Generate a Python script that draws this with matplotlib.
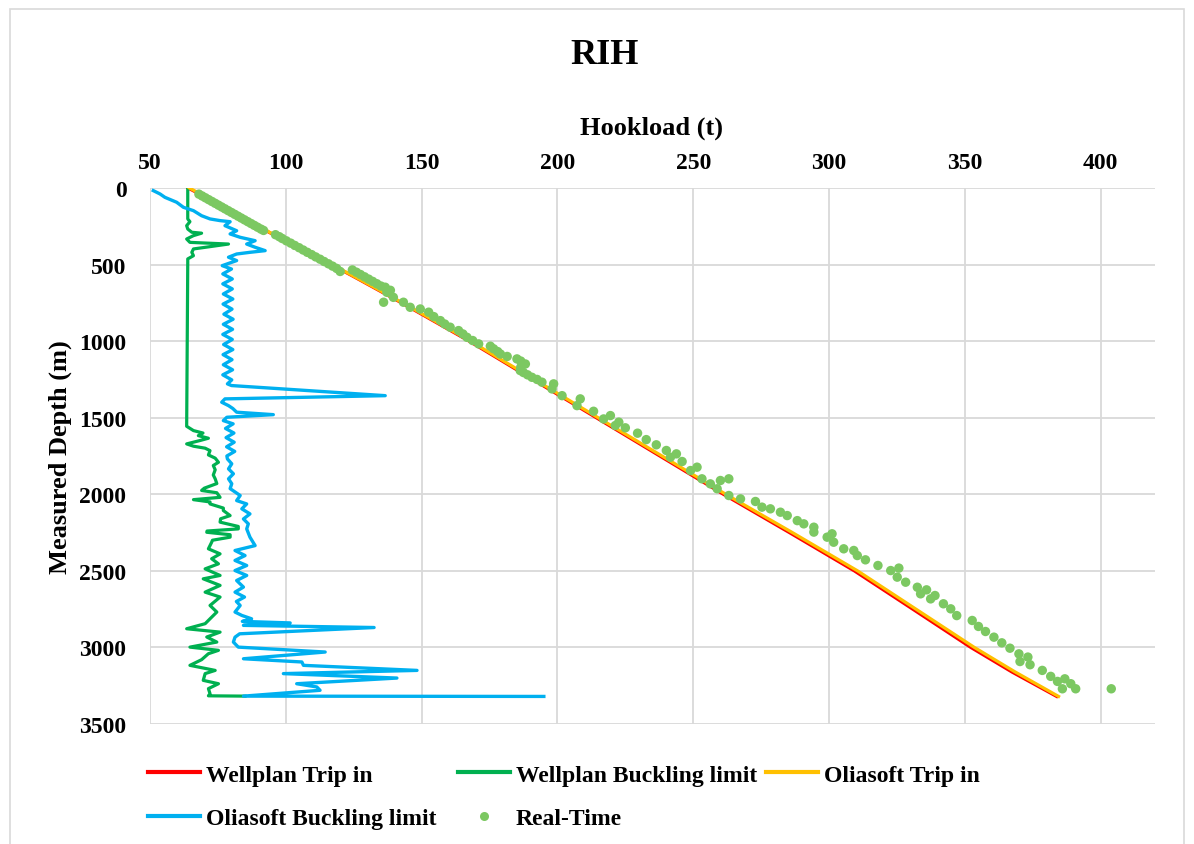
import matplotlib
matplotlib.use('Agg')
import matplotlib.pyplot as plt
from matplotlib.lines import Line2D
from matplotlib.patches import Rectangle

plt.rcParams['font.family'] = ['Liberation Serif', 'DejaVu Serif']
plt.rcParams['font.weight'] = 'bold'

# Trip in (hookload vs measured depth)
trip_depth = [0, 100, 200, 289, 400, 500, 600, 750, 1000, 1250, 1500, 1750,
              2000, 2250, 2500, 2750, 3000, 3160, 3320]
oliasoft_trip = [64.5, 75.0, 85.5, 94.0, 106.0, 117.0, 127.5, 143.0, 168.0, 191.5, 215.0, 238.5,
                 262.0, 286.5, 310.5, 332.0, 353.5, 368.5, 384.5]
wellplan_trip = [64.0, 74.8, 85.3, 93.8, 105.8, 116.8, 127.2, 142.6, 167.5, 190.9, 214.3, 237.7,
                 261.1, 285.4, 309.3, 330.8, 352.2, 367.3, 383.8]

# Wellplan buckling limit
wp_buck_depth = [5, 202, 220, 246, 268, 289, 295, 311, 333, 355, 366, 398, 420, 442, 463, 485,
                 1556, 1584, 1600, 1617, 1634, 1649, 1671, 1686, 1699, 1715, 1743, 1764, 1791,
                 1812, 1840, 1874, 1899, 1930, 1960, 1975, 1990, 2020, 2035, 2050, 2063, 2090,
                 2106, 2139, 2160, 2182, 2210, 2226, 2240, 2248, 2264, 2280, 2300, 2313, 2356,
                 2389, 2421, 2454, 2487, 2530, 2552, 2595, 2639, 2671, 2726, 2769, 2813, 2845,
                 2878, 2900, 2932, 2965, 2998, 3019, 3041, 3080, 3117, 3150, 3171, 3215, 3237,
                 3269, 3302, 3316, 3318]
wp_buck_load = [63.9, 63.9, 64.7, 63.5, 63.9, 65.4, 69.0, 66.0, 63.5, 64.7, 78.9, 66.0, 65.4,
                66.0, 63.9, 63.9,
                63.5, 66.0, 69.5, 67.8, 71.5, 68.4, 63.5, 66.0, 70.3, 72.1, 71.5, 74.0, 75.2,
                73.3, 74.0, 73.3, 74.0, 74.6, 70.0, 69.0, 74.6, 75.8, 66.0, 72.1, 72.1, 77.0,
                77.0, 79.5, 76.0, 75.8, 82.5, 82.5, 71.0, 70.9, 79.5, 79.5, 73.0, 72.7, 71.5,
                75.8, 72.7, 75.2, 70.3, 75.8, 69.6, 75.8, 70.3, 75.8, 72.1, 74.6, 72.1, 70.3,
                63.5, 75.8, 70.9, 74.6, 64.7, 75.2, 71.5, 69.0, 64.7, 74.0, 70.3, 69.6, 75.2,
                71.5, 72.1, 71.5, 85.0]

# Oliasoft buckling limit
ol_buck_depth = [17, 39, 61, 93, 126, 148, 181, 202, 213, 220, 246, 279, 300, 322, 344, 366,
                 387, 409, 420, 431, 452, 474,
                 507, 529, 561, 594, 626, 659, 692, 725, 758, 791, 824, 857, 890, 923, 956,
                 989, 1022, 1055, 1088, 1121, 1154, 1187, 1220, 1253, 1279, 1290,
                 1356, 1377, 1399, 1421, 1440, 1464, 1480, 1497, 1519,
                 1540, 1570, 1600, 1630, 1660, 1690, 1720, 1750, 1769, 1801, 1834, 1866, 1899,
                 1931, 1963, 2008, 2041, 2063, 2095, 2128, 2161, 2193, 2226, 2280, 2335, 2367,
                 2400, 2432, 2465, 2498, 2530, 2563, 2606, 2639, 2671, 2700, 2726, 2769, 2791,
                 2813, 2830, 2840, 2856, 2870, 2911, 2933, 2965, 2998, 3030, 3074, 3095, 3117,
                 3150, 3171, 3200, 3237, 3258, 3280, 3318, 3320]
ol_buck_load = [51.2, 53.7, 55.5, 59.8, 62.3, 66.0, 69.0, 72.1, 75.8, 79.5, 77.6, 81.9, 79.5,
                83.2, 88.7, 85.6, 88.7, 92.4, 86.8, 81.9, 78.9, 81.9,
                76.6, 80.0, 76.8, 80.3, 76.8, 80.3, 77.0, 80.5, 76.9, 80.2, 77.2, 80.6, 77.0,
                80.4, 76.8, 80.3, 77.1, 80.5, 76.9, 80.2, 77.0, 80.4, 76.8, 80.1, 78.5, 80.0,
                136.6, 77.6, 76.4, 78.9, 80.5, 81.9, 95.4, 78.3, 77.0,
                80.6, 77.8, 80.9, 78.0, 81.0, 78.2, 81.2, 78.3, 78.5, 80.1, 78.9, 80.7, 78.9,
                80.1, 79.5, 83.2, 81.9, 85.6, 83.8, 86.8, 84.4, 86.2, 85.6, 86.8, 88.7, 81.3,
                85.0, 81.3, 85.6, 81.3, 85.6, 81.9, 84.4, 81.3, 84.8, 81.8, 83.2, 81.3, 83.8,
                87.4, 84.0, 101.6, 84.4, 132.5, 83.0, 81.3, 80.7, 82.5, 114.5, 84.4, 105.9, 106.5,
                148.3, 99.1, 140.9, 104.0, 111.4, 112.6, 84.4, 195.0]

# Real-time measurements
rt_depth = [40, 52, 64, 76, 88, 100, 112, 124, 136, 148, 160, 172, 184, 196, 208, 220, 232,
            244, 256, 268, 277,
            305, 318, 330, 345, 360, 375, 390, 405, 420, 435, 450, 465, 480, 495, 510, 525, 545,
            535, 550, 565, 580, 595, 610, 625, 640, 648, 668, 681, 714, 746, 746, 779, 790,
            811, 840, 866, 888, 909, 931, 953, 975, 996, 1018, 1033, 1050, 1068, 1084, 1100,
            1116, 1130, 1149, 1170, 1192, 1205, 1220, 1236, 1250, 1268, 1279, 1312, 1356, 1377,
            1421, 1458, 1486, 1508, 1529, 1551, 1566, 1601, 1643, 1677, 1714, 1736, 1758, 1786,
            1823, 1845, 1899, 1910, 1899, 1932, 1964, 2008, 2030, 2047, 2084, 2095, 2117, 2139,
            2172, 2193, 2215, 2247, 2258, 2280, 2313, 2356, 2367, 2400, 2428, 2465, 2482, 2498,
            2541, 2574, 2607, 2624, 2650, 2661, 2683, 2715, 2748, 2792, 2824, 2863, 2896, 2933,
            2970, 3005, 3042, 3063, 3092, 3113, 3150, 3189, 3205, 3222, 3237, 3270, 3270, 3270]
rt_load = [68.0, 69.2, 70.4, 71.6, 72.8, 74.0, 75.2, 76.4, 77.6, 78.8, 80.0, 81.2, 82.4, 83.6,
           84.8, 86.0, 87.2, 88.4, 89.6, 90.8, 91.8,
           96.2, 97.6, 98.7, 100.2, 101.8, 103.3, 104.9, 106.4, 107.9, 109.5, 111.0, 112.6,
           114.1, 115.7, 117.2, 118.7, 120.0,
           124.5, 126.0, 127.5, 129.0, 130.5, 132.0, 133.5, 135.0, 136.6, 138.5, 137.2, 139.6,
           136.0, 143.3, 145.8, 149.5,
           152.6, 154.5, 156.9, 158.5, 160.5, 163.6, 165.2, 166.7, 168.8, 171.0, 175.3, 176.5,
           178.0, 179.0, 181.5, 185.1, 186.5, 188.2, 186.5, 186.3, 187.5, 189.0, 190.6, 192.5,
           194.3, 198.6, 198.0, 201.7, 208.4, 207.2, 213.3, 219.5, 217.0, 222.6, 221.3, 225.0,
           229.5, 232.7, 236.4, 240.1, 243.8, 241.6, 245.9, 251.4, 249.0, 253.2, 260.0, 263.1,
           256.3, 258.8, 263.1, 267.4, 272.9, 275.3, 278.4, 282.1, 284.6, 288.3, 290.7, 294.4,
           294.4, 301.1, 299.3, 301.7, 305.4, 309.1, 310.4, 313.4, 318.0, 325.7, 322.7, 325.1,
           328.2, 332.5, 335.9, 333.7, 339.0, 337.4, 342.1, 344.8, 347.0, 352.7, 355.0, 357.6,
           360.7, 363.6, 366.6, 369.9, 373.2, 370.3, 374.0, 378.5, 381.6, 386.8, 384.1, 389.0,
           385.9, 390.8, 403.9]

x_ticks = [50, 100, 150, 200, 250, 300, 350, 400]
y_ticks = [0, 500, 1000, 1500, 2000, 2500, 3000, 3500]

RED = '#FF0000'
GREEN = '#00B050'
ORANGE = '#FFC000'
BLUE = '#00B0F0'
DOT = '#7CC862'
GRID = '#D9D9D9'

fig = plt.figure(figsize=(11.94, 8.45), dpi=100)
ax = fig.add_axes([150 / 1194, 1 - 725 / 845, (1155 - 150) / 1194, (725 - 189) / 845])

ax.plot(wellplan_trip, trip_depth, color=RED, lw=2.3, solid_joinstyle='round', zorder=3)
ax.plot(wp_buck_load, wp_buck_depth, color=GREEN, lw=2.3, solid_joinstyle='round', zorder=3)
ax.plot(oliasoft_trip, trip_depth, color=ORANGE, lw=2.3, solid_joinstyle='round', zorder=4)
ax.plot(ol_buck_load, ol_buck_depth, color=BLUE, lw=2.4, solid_joinstyle='round', zorder=5)
ax.scatter(rt_load, rt_depth, s=46, color=DOT, edgecolors='none', zorder=6)

ax.set_xlim(50, 420)
ax.set_ylim(3500, 0)
ax.xaxis.tick_top()
ax.set_xticks(x_ticks)
ax.set_yticks(y_ticks)
ax.tick_params(axis='both', length=0, labelsize=17)
ax.tick_params(axis='x', pad=11)
ax.tick_params(axis='y', pad=17)
for lab in ax.get_xticklabels() + ax.get_yticklabels():
    lab.set_fontweight('bold')
ax.grid(True, color=GRID, lw=1.3)
ax.set_axisbelow(True)
for s in ax.spines.values():
    s.set_visible(False)

fig.text(605 / 1194, 1 - 55 / 845, 'RIH', ha='center', va='center', fontsize=26, fontweight='bold')
fig.text(652 / 1194, 1 - 128 / 845, 'Hookload (t)', ha='center', va='center', fontsize=19,
         fontweight='bold')
fig.text(60 / 1194, 1 - 457 / 845, 'Measured Depth (m)', ha='center', va='center', fontsize=19,
         fontweight='bold', rotation=90)

# legend, three columns placed like the original
def make_leg(handles, labels, x):
    fig.legend(handles, labels, loc='upper left', bbox_to_anchor=(x / 1194, 1 - 765 / 845),
               frameon=False, prop={'size': 17, 'weight': 'bold'}, borderpad=0, borderaxespad=0,
               handlelength=2.2, handletextpad=0.25, labelspacing=0.95, numpoints=1)

make_leg([Line2D([], [], color=RED, lw=3), Line2D([], [], color=BLUE, lw=3)],
         ['Wellplan Trip in', 'Oliasoft Buckling limit'], 148)
make_leg([Line2D([], [], color=GREEN, lw=3),
          Line2D([], [], color=DOT, lw=0, marker='o', markersize=6.5, markeredgewidth=0)],
         ['Wellplan Buckling limit', 'Real-Time'], 458)
make_leg([Line2D([], [], color=ORANGE, lw=3)], ['Oliasoft Trip in'], 766)

fig.patches.append(Rectangle((10 / 1194, -0.01), 1174 / 1194, 1 - 10 / 845 + 0.01,
                             transform=fig.transFigure, fill=False, edgecolor=GRID, lw=1.2))

fig.savefig('out.png', dpi=100, facecolor='white')
